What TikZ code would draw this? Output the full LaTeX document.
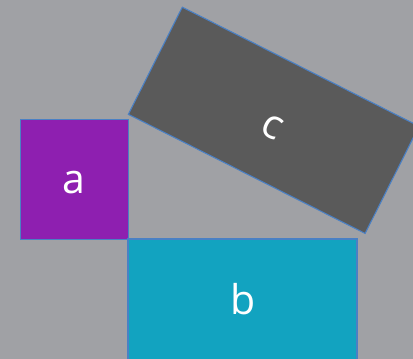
\documentclass[tikz,border=0pt]{standalone}
\usepackage{fontspec}
\setmainfont{Open Sans}
\definecolor{bgGray}{HTML}{A0A1A5}
\definecolor{sqPurple}{HTML}{8E1FB0}
\definecolor{sqCyan}{HTML}{12A3C0}
\definecolor{sqDark}{HTML}{5A5A5A}
\definecolor{edgeBlue}{HTML}{4A80C4}
\begin{document}
\begin{tikzpicture}[x=1pt,y=1pt,
  sq/.style={draw=edgeBlue, line width=1.1pt, inner sep=0pt, outer sep=0pt},
  lbl/.style={text=white, font=\fontsize{41}{41}\selectfont, inner sep=0pt}]
  \useasboundingbox (0,0) rectangle (413,-359);
  \clip (0,0) rectangle (413,-359);
  \fill[bgGray] (0,0) rectangle (413,-359);
  % the three squares
  \node[sq, fill=sqPurple, minimum width=108pt, minimum height=120pt] (sa) at (74.2,-179.2) {};
  \node[sq, fill=sqCyan, minimum width=229pt, minimum height=140pt] (sb) at (242.5,-309) {};
  \node[sq, fill=sqDark, minimum width=265pt, minimum height=120pt, rotate=-26.7] (sc) at (273.7,-120.3) {};
  % labels
  \node[lbl] (ta) at (74,-183) {a};
  \node[lbl] (tb) at (242.8,-299.5) {b};
  \node[lbl, rotate=-26.7] (tc) at (272.5,-127) {c};
\end{tikzpicture}
\end{document}
